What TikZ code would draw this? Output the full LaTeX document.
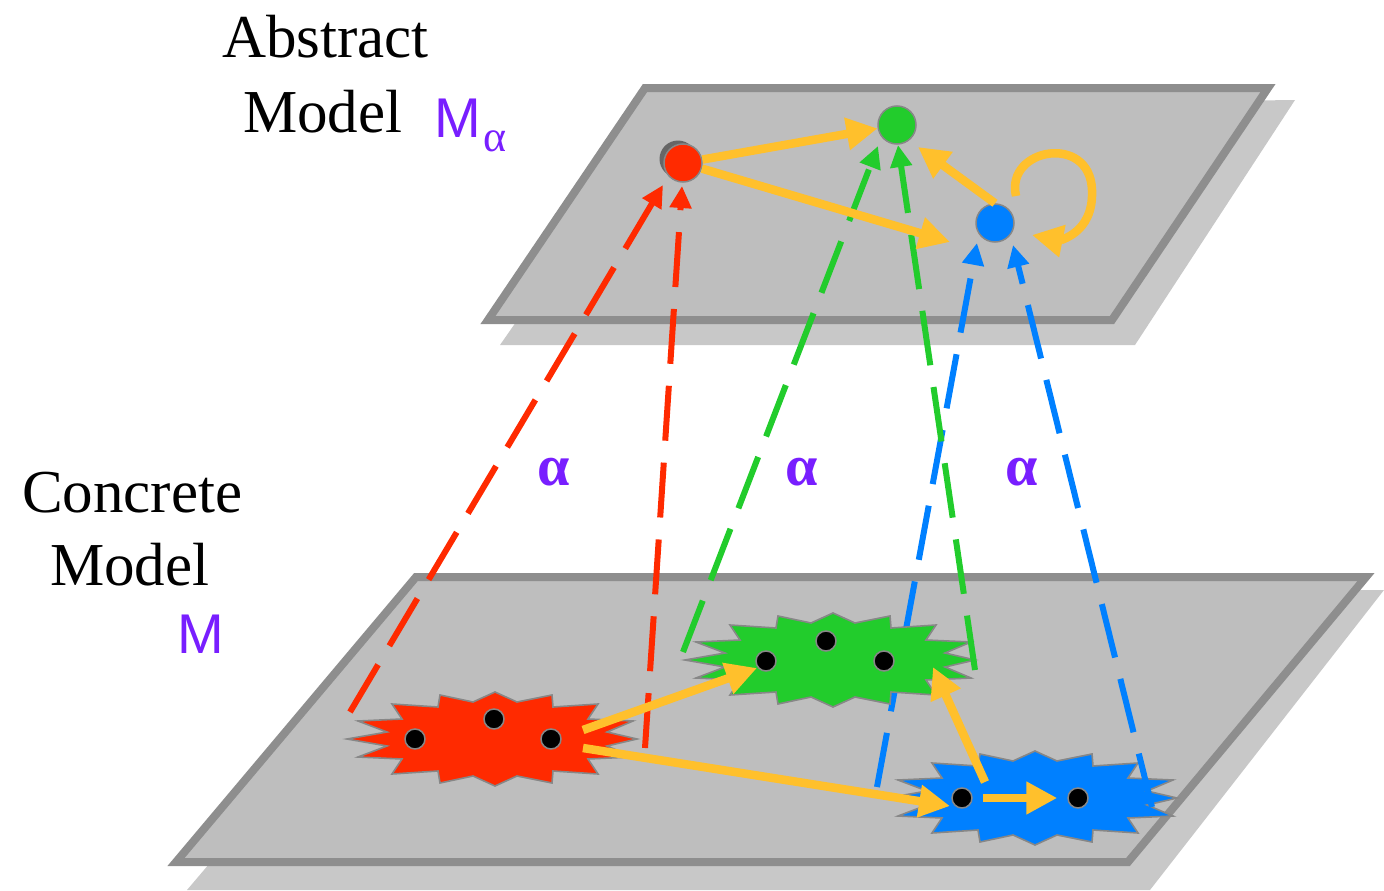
\documentclass[tikz,border=0pt]{standalone}
\usepackage{fontspec}
\setmainfont{Liberation Serif}
\newfontfamily\sansf{Liberation Sans}
\usetikzlibrary{arrows.meta,calc}
\definecolor{yel}{RGB}{255,192,44}
\definecolor{cred}{RGB}{255,42,0}
\definecolor{cgreen}{RGB}{34,204,44}
\definecolor{cblue}{RGB}{0,128,255}
\definecolor{purp}{RGB}{120,30,255}
\definecolor{planefill}{RGB}{190,190,190}
\definecolor{planeedge}{RGB}{142,142,142}
\definecolor{planeshadow}{RGB}{200,200,200}
\definecolor{stargray}{RGB}{135,135,135}
\newcommand\mystarburst[3]{%
  \draw[fill=#1,draw=stargray,line width=1.6pt,line join=miter,shift={(#2,#3)}]
   (-145,0) -- (-105,-7) -- (-134,-18) -- (-90,-20) -- (-100,-35) -- (-54,-32) -- (-52,-44) -- (-19,-37) -- (3,-47) -- (25,-37) -- (60,-44) -- (61,-32) -- (106,-35) -- (96,-20) -- (141,-18) -- (115,-7) -- (145,0)
   -- (115,7) -- (141,18) -- (96,20) -- (106,35) -- (61,32) -- (60,44) -- (25,37) -- (3,47) -- (-19,37) -- (-52,44) -- (-54,32) -- (-100,35) -- (-90,20) -- (-134,18) -- (-105,7) -- cycle;}
\tikzset{
  plane/.style={fill=planefill,draw=planeedge,line width=8pt,line join=miter},
  shadowplane/.style={fill=planeshadow},
  yarr/.style={draw=yel,line width=8.5pt,-{Triangle[length=31pt,width=31pt]}},
  dsh/.style={line width=6pt,dash pattern=on 55pt off 22pt,-{Triangle[length=22pt,width=21pt]}},
  dot/.style={circle,fill=black,draw=stargray,line width=1.5pt,minimum size=20pt,inner sep=0pt},
  topnode/.style={circle,draw=stargray,line width=1.5pt,minimum size=38pt,inner sep=0pt},
  lbl/.style={anchor=base west,inner sep=0pt,font=\fontsize{61}{61}\selectfont},
  purplbl/.style={anchor=base west,inner sep=0pt,text=purp,font=\sansf\fontsize{56}{56}\selectfont},
  alph/.style={inner sep=0pt,text=purp,font=\bfseries\fontsize{58}{58}\selectfont},
}
\begin{document}
\begin{tikzpicture}[x=1pt,y=-1pt]
\useasboundingbox (0,0) rectangle (1384,891);
% planes
\fill[shadowplane] (665,108) -- (1295,100) -- (1135,345) -- (500,345) -- cycle;
\draw[plane] (645,88) -- (1268,88) -- (1112,320) -- (488,320) -- cycle;
\fill[shadowplane] (436,597) -- (1384,590) -- (1150,890) -- (187,890) -- cycle;
\draw[plane] (416,577) -- (1366,577) -- (1128,862) -- (176,862) -- cycle;
% labels
\node[lbl] (abs) at (222,58) {Abstract};
\node[lbl] (absm) at (243,132) {Model};
\node[purplbl] (ma) at (434,137) {M};
\node[anchor=base west,inner sep=0pt,text=purp,font=\fontsize{44}{44}\selectfont] (masub) at (483,151) {α};
\node[lbl] (con) at (22,512) {Concrete};
\node[lbl] (conm) at (50,585) {Model};
\node[purplbl] (mc) at (177,653) {M};
\node[alph] (a1) at (554,472) {α};
\node[alph] (a2) at (802,472) {α};
\node[alph] (a3) at (1022,472) {α};
% top nodes
\fill[gray!80!black] (678,159) circle (18.5);
\node[topnode,fill=cred] (ar) at (683,163) {};
\node[topnode,fill=cgreen] (ag) at (897,125) {};
\node[topnode,fill=cblue] (ab) at (995,223) {};
% coordinates
\coordinate (r1s) at (350,712);
\coordinate (r1t) at (663,185);
\coordinate (r2s) at (645,748);
\coordinate (r2t) at (682,186);
\coordinate (g1s) at (683,652);
\coordinate (g1t) at (878,146);
\coordinate (g2s) at (975,670);
\coordinate (g2t) at (898,145);
\coordinate (b1s) at (877,787);
\coordinate (b1t) at (977,243);
\coordinate (b2s) at (1152,807);
\coordinate (b2t) at (1013,245);
% dashed line behind green star
\draw[dsh,cblue] (b1s) -- (b1t);
% stars
\mystarburst{cred}{492}{739}
\mystarburst{cgreen}{830}{660}
\mystarburst{cblue}{1032}{798}
% dashed abstraction lines
\draw[dsh,cred] (r1s) -- (r1t);
\draw[dsh,cred] (r2s) -- (r2t);
\draw[dsh,cgreen] (g1s) -- (g1t);
\draw[dsh,cgreen] (g2s) -- (g2t);
\draw[dsh,cblue] (b2s) -- (b2t);
% dots
\node[dot] (rd1) at (415,739) {};
\node[dot] (rd2) at (494,719) {};
\node[dot] (rd3) at (551,739) {};
\node[dot] (gd1) at (766,661) {};
\node[dot] (gd2) at (826,641) {};
\node[dot] (gd3) at (884,661) {};
\node[dot] (bd1) at (962,798) {};
\node[dot] (bd2) at (1078,798) {};
% top yellow arrows
\coordinate (trb) at (950,242);
\coordinate (tbg) at (918,147);
\draw[yarr] (ar) -- (ag);
\draw[yarr] (ar) -- (trb);
\draw[yarr] (ab.north) -- (tbg);
\draw[yarr] ($(ab)+(21,-27)$) .. controls ($(ab)+(10,-75)$) and ($(ab)+(95,-90)$) .. ($(ab)+(97,-33)$)
  .. controls ($(ab)+(99,12)$) and ($(ab)+(62,17)$) .. ($(ab)+(37,12)$);
% bottom yellow arrows
\coordinate (rgs) at (583,730);
\coordinate (rgt) at (757,668);
\coordinate (rbs) at (583,748);
\coordinate (rbt) at (950,806);
\coordinate (bgs) at (985,782);
\coordinate (bgt) at (933,667);
\draw[yarr] (rgs) -- (rgt);
\draw[yarr] (rbs) -- (rbt);
\draw[yarr] (bgs) -- (bgt);
\draw[yarr,shorten <=10pt,shorten >=10pt] (bd1) -- (bd2);
\end{tikzpicture}
\end{document}
